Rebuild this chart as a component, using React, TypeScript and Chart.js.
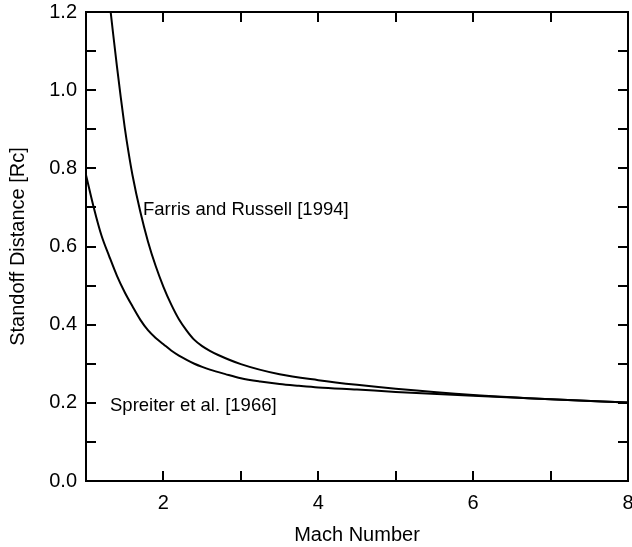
import React, { useEffect, useRef } from 'react';
import { Chart, registerables } from 'chart.js';

Chart.register(...registerables);

// Spreiter et al. [1966]
const spreiterMach = [1.0, 1.1, 1.2, 1.3, 1.4, 1.5, 1.6, 1.7, 1.8, 1.9, 2.0, 2.1, 2.2, 2.3, 2.4, 2.5, 2.6, 2.8, 3.0, 3.25, 3.5, 3.75, 4.0, 4.5, 5.0, 6.0, 7.0, 8.0];
const spreiterDist = [0.783, 0.7, 0.628, 0.575, 0.525, 0.483, 0.447, 0.413, 0.386, 0.366, 0.35, 0.334, 0.321, 0.31, 0.3, 0.292, 0.285, 0.2735, 0.263, 0.2545, 0.248, 0.2435, 0.2395, 0.234, 0.228, 0.218, 0.209, 0.201];

// Farris and Russell [1994]
const farrisMach = [1.29, 1.35, 1.4, 1.45, 1.5, 1.55, 1.6, 1.7, 1.8, 1.9, 2.0, 2.1, 2.2, 2.3, 2.4, 2.5, 2.6, 2.7, 3.0, 3.5, 4.0, 4.5, 5.0, 6.0, 7.0, 8.0];
const farrisDist = [1.25, 1.145, 1.06, 0.98, 0.905, 0.84, 0.783, 0.69, 0.613, 0.55, 0.497, 0.452, 0.414, 0.385, 0.361, 0.345, 0.333, 0.323, 0.299, 0.273, 0.258, 0.246, 0.236, 0.22, 0.209, 0.201];

const curveLabels = ['Farris and Russell [1994]', 'Spreiter et al. [1966]'];
const labelMach = [1.736, 1.31];
const labelDist = [0.693, 0.192];

const xTitle = 'Mach Number';
const yTitle = 'Standoff Distance [Rc]';

const FONT = 'Liberation Sans, Arial, Helvetica, sans-serif';

const framePlugin = {
  id: 'frameTicks',
  afterDatasetsDraw(chart: any) {
    const { ctx, chartArea, scales } = chart;
    const { left, right, top, bottom } = chartArea;
    const x = scales.x;
    const y = scales.y;
    const L = 10;
    ctx.save();
    ctx.strokeStyle = '#000';
    ctx.lineWidth = 2;
    ctx.beginPath();
    x.ticks.forEach((t: any) => {
      if (t.value <= x.min + 1e-9 || t.value >= x.max - 1e-9) return;
      const px = Math.round(x.getPixelForValue(t.value));
      ctx.moveTo(px, bottom);
      ctx.lineTo(px, bottom - L);
      ctx.moveTo(px, top);
      ctx.lineTo(px, top + L);
    });
    y.ticks.forEach((t: any) => {
      if (t.value <= y.min + 1e-9 || t.value >= y.max - 1e-9) return;
      const py = Math.round(y.getPixelForValue(t.value));
      ctx.moveTo(left, py);
      ctx.lineTo(left + L, py);
      ctx.moveTo(right, py);
      ctx.lineTo(right - L, py);
    });
    ctx.stroke();
    ctx.strokeRect(left, top, right - left, bottom - top);

    ctx.fillStyle = '#000';
    ctx.font = `18.5px ${FONT}`;
    ctx.textAlign = 'left';
    ctx.textBaseline = 'middle';
    curveLabels.forEach((s, i) => {
      ctx.fillText(s, x.getPixelForValue(labelMach[i]), y.getPixelForValue(labelDist[i]));
    });
    ctx.restore();
  },
};

export default function App() {
  const ref = useRef<HTMLCanvasElement>(null);
  useEffect(() => {
    if (!ref.current) return;
    const mk = (xs: number[], ys: number[]) => xs.map((v, i) => ({ x: v, y: ys[i] }));
    const chart = new Chart(ref.current, {
      type: 'line',
      data: {
        datasets: [
          {
            data: mk(farrisMach, farrisDist),
            borderColor: '#000',
            borderWidth: 2,
            pointRadius: 0,
            cubicInterpolationMode: 'monotone',
            fill: false,
          },
          {
            data: mk(spreiterMach, spreiterDist),
            borderColor: '#000',
            borderWidth: 2,
            pointRadius: 0,
            cubicInterpolationMode: 'monotone',
            fill: false,
          },
        ],
      },
      options: {
        animation: false,
        responsive: true,
        maintainAspectRatio: false,
        layout: { padding: { left: 0, top: 12, right: 4, bottom: 0 } },
        plugins: { legend: { display: false }, tooltip: { enabled: false } },
        scales: {
          x: {
            type: 'linear',
            min: 1,
            max: 8,
            grid: { display: false, drawTicks: false },
            border: { display: false },
            ticks: {
              stepSize: 1,
              autoSkip: false,
              maxRotation: 0,
              padding: 10,
              color: '#000',
              font: { family: FONT, size: 20 },
              callback: (v: any) => (Math.round(v) % 2 === 0 ? String(Math.round(v)) : ''),
            },
            title: {
              display: true,
              text: xTitle,
              color: '#000',
              font: { family: FONT, size: 20 },
              padding: { top: 0, bottom: 0 },
            },
            afterFit: (s: any) => {
              s.height = 66;
              s.paddingLeft = 0;
              s.paddingRight = 0;
            },
          },
          y: {
            type: 'linear',
            min: 0,
            max: 1.2,
            grid: { display: false, drawTicks: false },
            border: { display: false },
            ticks: {
              stepSize: 0.1,
              autoSkip: false,
              padding: 9,
              color: '#000',
              font: { family: FONT, size: 20 },
              callback: (v: any) => {
                const k = Math.round(v * 10);
                return k % 2 === 0 ? (k / 10).toFixed(1) : '';
              },
            },
            title: {
              display: true,
              text: yTitle,
              color: '#000',
              font: { family: FONT, size: 20 },
              padding: { top: 6, bottom: 0 },
            },
            afterFit: (s: any) => {
              s.width = 86;
              s.paddingTop = 0;
              s.paddingBottom = 0;
            },
          },
        },
      },
      plugins: [framePlugin],
    });
    return () => chart.destroy();
  }, []);
  return (
    <div style={{ position: 'fixed', left: 0, top: 0, width: 632, height: 547, background: '#fff' }}>
      <canvas ref={ref} />
    </div>
  );
}
